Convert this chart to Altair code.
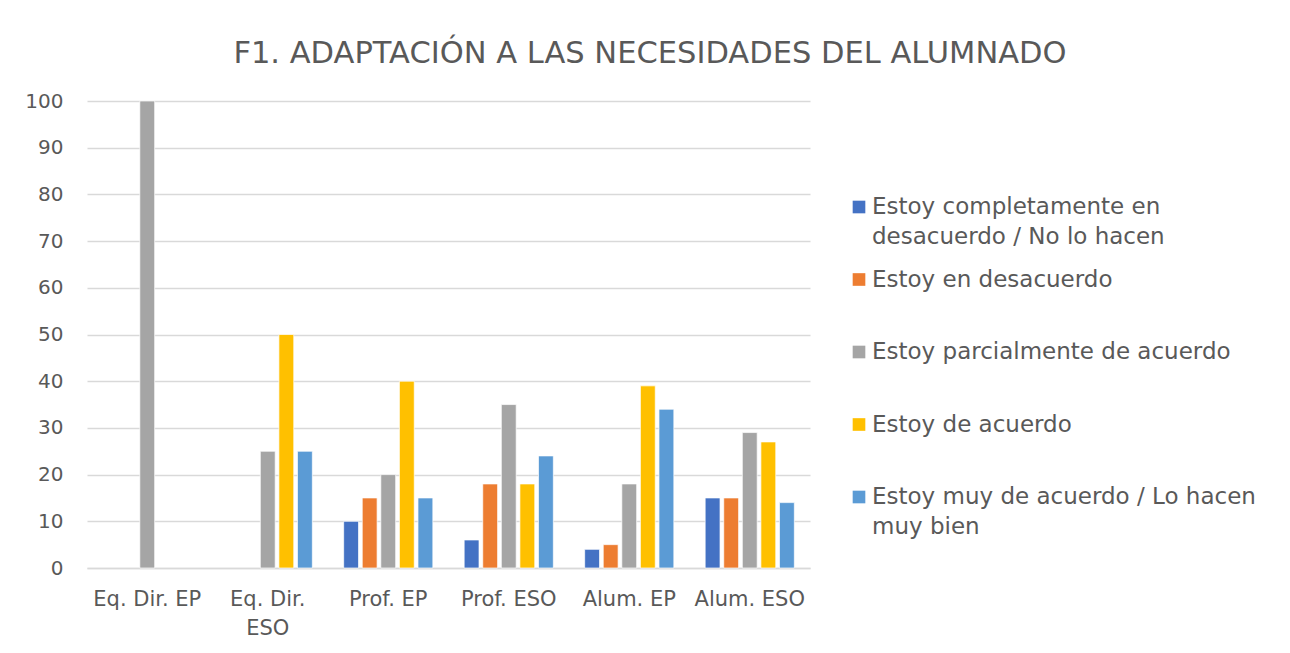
import altair as alt
import pandas as pd

groups = ["Eq. Dir. EP", "Eq. Dir. ESO", "Prof. EP", "Prof. ESO", "Alum. EP", "Alum. ESO"]
series = [
    "Estoy completamente en desacuerdo / No lo hacen",
    "Estoy en desacuerdo",
    "Estoy parcialmente de acuerdo",
    "Estoy de acuerdo",
    "Estoy muy de acuerdo / Lo hacen muy bien",
]
legend_labels = [
    "Estoy completamente en\ndesacuerdo / No lo hacen",
    "Estoy en desacuerdo",
    "Estoy parcialmente de acuerdo",
    "Estoy de acuerdo",
    "Estoy muy de acuerdo / Lo hacen\nmuy bien",
]
v_completo_desac = [0, 0, 10, 6, 4, 15]
v_desac = [0, 0, 15, 18, 5, 15]
v_parcial = [100, 25, 20, 35, 18, 29]
v_acuerdo = [0, 50, 40, 18, 39, 27]
v_muy_acuerdo = [0, 25, 15, 24, 34, 14]
colors = ["#4472C4", "#ED7D31", "#A5A5A5", "#FFC000", "#5B9BD5"]
y_ticks = [0, 10, 20, 30, 40, 50, 60, 70, 80, 90, 100]
title_text = "F1. ADAPTACIÓN A LAS NECESIDADES DEL ALUMNADO"

all_values = [v_completo_desac, v_desac, v_parcial, v_acuerdo, v_muy_acuerdo]
rows = []
for s, vals in zip(series, all_values):
    for g, v in zip(groups, vals):
        if v > 0:
            rows.append({"grupo": g, "serie": s, "valor": v})
df = pd.DataFrame(rows)

FONT = "DejaVu Sans"
TXT = "#595959"
GRID = "#D9D9D9"

color_scale = alt.Scale(domain=series, range=colors)

bars = alt.Chart(df).mark_bar(stroke="white", strokeWidth=0.7).encode(
    x=alt.X(
        "grupo:N",
        sort=groups,
        scale=alt.Scale(domain=groups, paddingInner=0.26, paddingOuter=0.13),
        axis=alt.Axis(
            title=None,
            labelAngle=0,
            labelFont=FONT,
            labelFontSize=21,
            labelColor=TXT,
            labelPadding=20,
            labelLineHeight=29,
            labelExpr="datum.label == 'Eq. Dir. ESO' ? ['Eq. Dir.', 'ESO'] : datum.label",
            ticks=False,
            domainColor=GRID,
            domainWidth=1.5,
        ),
    ),
    xOffset=alt.XOffset("serie:N", sort=series,
                        scale=alt.Scale(domain=series, paddingInner=0.2, paddingOuter=0)),
    y=alt.Y(
        "valor:Q",
        scale=alt.Scale(domain=[0, 100]),
        axis=alt.Axis(
            title=None,
            values=y_ticks,
            labelFont=FONT,
            labelFontSize=20,
            labelColor=TXT,
            labelPadding=24,
            ticks=False,
            domain=False,
            gridColor=GRID,
            gridWidth=1.5,
            minExtent=79,
            maxExtent=79,
        ),
    ),
    color=alt.Color("serie:N", sort=series, scale=color_scale, legend=None),
).properties(width=723, height=467)

leg_df = pd.DataFrame({"serie": series, "label": legend_labels})
leg_base = alt.Chart(leg_df).encode(
    y=alt.Y("serie:N", sort=series, axis=None,
            scale=alt.Scale(type="point", domain=series, range=[106, 396], padding=0))
)
leg_sq = leg_base.mark_square(size=160, opacity=1).encode(
    x=alt.value(9),
    color=alt.Color("serie:N", sort=series, scale=color_scale, legend=None),
)
leg_tx = leg_base.mark_text(
    align="left", baseline="alphabetic", dy=7, fontSize=23, lineBreak="\n",
    lineHeight=30, color=TXT, font=FONT,
).encode(x=alt.value(22), text="label:N")
legend = (leg_sq + leg_tx).properties(width=420, height=467)

chart = alt.hconcat(bars, legend, spacing=40).properties(
    title=alt.Title(
        title_text, fontSize=30.5, font=FONT, color=TXT, fontWeight="normal",
        anchor="middle", offset=22, dx=11,
    ),
    padding={"left": 0, "top": 30, "right": 5, "bottom": 5},
).configure_view(stroke=None)

chart.save("out.html", embed_options={"renderer": "svg", "actions": False})
